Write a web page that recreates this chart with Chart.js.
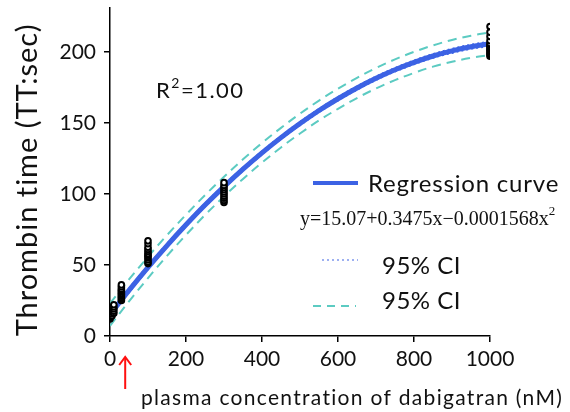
<!DOCTYPE html>
<html>
<head>
<meta charset="utf-8">
<script src="https://cdn.jsdelivr.net/npm/chart.js@4.4.1/dist/chart.umd.min.js"></script>
<style>
  html, body { margin: 0; padding: 0; background: #fff; }
  #wrap { width: 570px; height: 412px; position: relative; }
</style>
</head>
<body>
<div id="wrap"><canvas id="chart"></canvas></div>
<script>
// Data
const curveX = [0, 50, 100, 150, 200, 250, 300, 350, 400, 450, 500, 550, 600, 650, 700, 750, 800, 850, 900, 950, 1000];
const curveY = [15.1, 32.1, 48.3, 63.7, 78.3, 92.2, 105.2, 117.5, 129.0, 139.7, 149.6, 158.8, 167.1, 174.7, 181.5, 187.5, 192.7, 197.2, 200.8, 203.7, 205.8];
const ciUpper = [23.0, 39.8, 55.8, 71.0, 85.4, 99.2, 112.1, 124.4, 135.9, 146.6, 156.6, 165.8, 174.2, 181.8, 188.7, 194.8, 200.1, 204.7, 208.5, 211.5, 213.8];
const ciLower = [7.2, 24.4, 40.8, 56.4, 71.2, 85.2, 98.3, 110.6, 122.1, 132.8, 142.6, 151.8, 160.0, 167.6, 174.3, 180.2, 185.3, 189.7, 193.1, 195.9, 197.8];
const meanUpper = [17.0, 33.8, 49.9, 65.2, 79.8, 93.6, 106.6, 118.9, 130.4, 141.1, 151.1, 160.2, 168.6, 176.2, 183.0, 189.0, 194.3, 198.8, 202.5, 205.4, 207.6];
const meanLower = [13.2, 30.4, 46.7, 62.2, 76.8, 90.8, 103.8, 116.1, 127.6, 138.3, 148.1, 157.4, 165.6, 173.2, 180.0, 186.0, 191.1, 195.6, 199.1, 202.0, 204.0];

const obsX = [0, 0, 0, 0, 0, 0, 0, 5, 5, 5, 5, 5, 10, 10, 10, 10, 10,
              30, 30, 30, 30, 30, 30, 30, 30, 30, 30, 30,
              100, 100, 100, 100, 100, 100, 100, 100, 100, 100, 100, 100,
              300, 300, 300, 300, 300, 300, 300, 300, 300, 300,
              1000, 1000, 1000, 1000, 1000, 1000, 1000, 1000, 1000, 1000, 1000, 1000, 1000, 1000];
const obsY = [12, 13, 14, 15, 16, 17, 18, 14, 15.5, 17, 18.5, 20, 16, 17.5, 19, 20.5, 22,
              25, 26, 27, 28, 29, 30, 31, 32, 33, 34.5, 36,
              51, 52, 53.5, 55, 56, 57, 58, 59.5, 61, 62.5, 65, 67,
              94, 95.5, 97, 98.5, 100, 101.5, 103, 104.5, 106, 108,
              197, 198, 199, 200, 201, 202, 203, 204, 205, 206, 208, 211, 214, 218, 221];

const xTicks = [0, 200, 400, 600, 800, 1000];
const yTicks = [0, 50, 100, 150, 200];
const markerConc = 40;

const FONT = 'Lato, "Open Sans", sans-serif';
const BLUE = '#3c62e4';
const TEAL = '#5ccbc2';

const toPts = (xs, ys) => xs.map((x, i) => ({ x: x, y: ys[i] }));

const textPlugin = {
    id: 'texts',
    afterDraw(chart) {
        const c = chart.ctx;
        const xs = chart.scales.x;
        c.save();
        c.fillStyle = '#111';
        c.textBaseline = 'middle';

        // y axis title
        c.save();
        c.translate(28, 180);
        c.rotate(-Math.PI / 2);
        c.textAlign = 'center';
        c.font = '29px ' + FONT;
        c.letterSpacing = '1px';
        c.fillText('Thrombin time (TT:sec)', 0, 0);
        c.restore();

        // x axis title
        c.textAlign = 'left';
        c.font = '21px ' + FONT;
        c.letterSpacing = '1.3px';
        c.fillText('plasma concentration of dabigatran (nM)', 141, 398);

        // R^2
        c.letterSpacing = '1.5px';
        c.font = '22px ' + FONT;
        c.fillText('R', 156, 91);
        let w = c.measureText('R').width;
        c.font = '14px ' + FONT;
        c.fillText('2', 156 + w, 83);
        let w2 = c.measureText('2').width;
        c.font = '22px ' + FONT;
        c.fillText('=1.00', 156 + w + w2, 91);

        // legend
        c.lineCap = 'butt';
        c.strokeStyle = BLUE;
        c.lineWidth = 4;
        c.beginPath(); c.moveTo(313, 183); c.lineTo(358, 183); c.stroke();
        c.font = '24px ' + FONT;
        c.letterSpacing = '0.8px';
        c.fillText('Regression curve', 368, 184);

        c.letterSpacing = '0px';
        c.font = '20px "Liberation Serif", "DejaVu Serif", serif';
        const eq = 'y=15.07+0.3475x\u22120.0001568x';
        c.fillText(eq, 300, 220);
        const we = c.measureText(eq).width;
        c.font = '13px "Liberation Serif", serif';
        c.fillText('2', 300 + we, 212);

        c.strokeStyle = BLUE;
        c.lineWidth = 1.2;
        c.setLineDash([2, 3]);
        c.beginPath(); c.moveTo(322, 260); c.lineTo(358, 260); c.stroke();
        c.strokeStyle = TEAL;
        c.lineWidth = 2;
        c.setLineDash([8, 6]);
        c.beginPath(); c.moveTo(313, 306); c.lineTo(356, 306); c.stroke();
        c.setLineDash([]);
        c.font = '24px ' + FONT;
        c.letterSpacing = '0.5px';
        c.fillText('95% CI', 382, 266);
        c.fillText('95% CI', 382, 301);

        // red arrow under the axis
        const ax = xs.getPixelForValue(markerConc);
        c.strokeStyle = '#ff1010';
        c.lineWidth = 2;
        c.beginPath(); c.moveTo(ax, 389); c.lineTo(ax, 358); c.stroke();
        c.beginPath(); c.moveTo(ax - 6, 365); c.lineTo(ax, 357); c.lineTo(ax + 6, 365); c.stroke();
        c.restore();
    }
};

new Chart(document.getElementById('chart'), {
    type: 'scatter',
    data: {
        datasets: [
            {
                label: 'obs',
                data: toPts(obsX, obsY),
                showLine: false,
                pointRadius: 2.8,
                pointBorderWidth: 2,
                pointBorderColor: '#000',
                pointBackgroundColor: '#fff',
                order: 0
            },
            {
                label: 'Regression curve',
                data: toPts(curveX, curveY),
                showLine: true,
                borderColor: BLUE,
                borderWidth: 5,
                pointRadius: 0,
                tension: 0.4,
                order: 1
            },
            {
                label: '95% CI mean upper',
                data: toPts(curveX, meanUpper),
                showLine: true,
                borderColor: BLUE,
                borderWidth: 1.2,
                borderDash: [2, 3],
                pointRadius: 0,
                tension: 0.4,
                order: 2
            },
            {
                label: '95% CI mean lower',
                data: toPts(curveX, meanLower),
                showLine: true,
                borderColor: BLUE,
                borderWidth: 1.2,
                borderDash: [2, 3],
                pointRadius: 0,
                tension: 0.4,
                order: 2
            },
            {
                label: '95% CI upper',
                data: toPts(curveX, ciUpper),
                showLine: true,
                borderColor: TEAL,
                borderWidth: 2,
                borderDash: [9, 6],
                pointRadius: 0,
                tension: 0.4,
                order: 3
            },
            {
                label: '95% CI lower',
                data: toPts(curveX, ciLower),
                showLine: true,
                borderColor: TEAL,
                borderWidth: 2,
                borderDash: [9, 6],
                pointRadius: 0,
                tension: 0.4,
                order: 3
            }
        ]
    },
    options: {
        responsive: true,
        maintainAspectRatio: false,
        animation: false,
        layout: { padding: { top: 8, right: 80, left: 0, bottom: 0 } },
        plugins: {
            legend: { display: false },
            tooltip: { enabled: false }
        },
        scales: {
            x: {
                type: 'linear',
                min: 0,
                max: 1000,
                afterBuildTicks: (s) => { s.ticks = xTicks.map(v => ({ value: v })); },
                afterFit: (s) => { s.height = 76; s.paddingLeft = 0; s.paddingRight = 0; },
                grid: { drawOnChartArea: false, color: '#000', tickLength: 6, lineWidth: 1.5 },
                border: { color: '#000', width: 1.5 },
                ticks: {
                    color: '#111', font: { family: FONT, size: 21 }, padding: 5, maxRotation: 0,
                    callback: (v) => String(v)
                }
            },
            y: {
                type: 'linear',
                min: 0,
                max: 231,
                afterBuildTicks: (s) => { s.ticks = yTicks.map(v => ({ value: v })); },
                afterFit: (s) => { s.width = 110; s.paddingTop = 0; s.paddingBottom = 0; },
                grid: { drawOnChartArea: false, color: '#000', tickLength: 6, lineWidth: 1.5 },
                border: { color: '#000', width: 1.5 },
                ticks: { color: '#111', font: { family: FONT, size: 21 }, padding: 8 }
            }
        }
    },
    plugins: [textPlugin]
});
</script>
</body>
</html>
